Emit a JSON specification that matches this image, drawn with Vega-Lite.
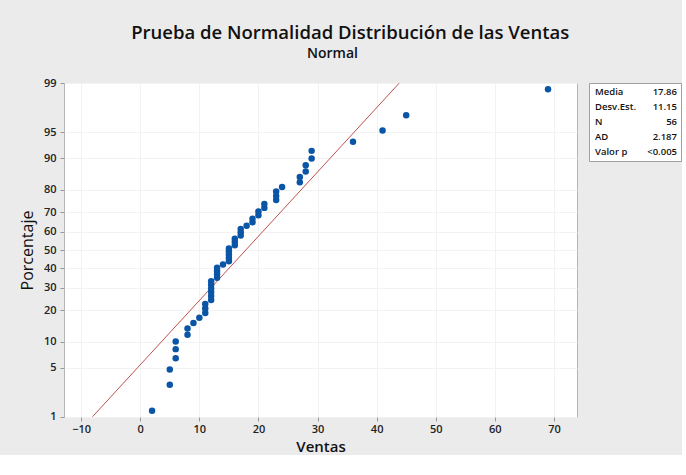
{
  "$schema": "https://vega.github.io/schema/vega-lite/v6.json",
  "background": "#ebebeb",
  "padding": {"left": 18, "top": 24, "right": 0, "bottom": 0},
  "title": {
    "text": "Prueba de Normalidad Distribución de las Ventas",
    "font": "Open Sans",
    "fontSize": 18.5,
    "fontWeight": 600,
    "color": "#111111",
    "anchor": "middle",
    "offset": 4
  },
  "datasets": {
    "ventas": [
      {"Ventas": 2, "Porcentaje": 1.241},
      {"Ventas": 5, "Porcentaje": 3.014},
      {"Ventas": 5, "Porcentaje": 4.787},
      {"Ventas": 6, "Porcentaje": 6.560},
      {"Ventas": 6, "Porcentaje": 8.333},
      {"Ventas": 6, "Porcentaje": 10.106},
      {"Ventas": 8, "Porcentaje": 11.879},
      {"Ventas": 8, "Porcentaje": 13.652},
      {"Ventas": 9, "Porcentaje": 15.426},
      {"Ventas": 10, "Porcentaje": 17.199},
      {"Ventas": 11, "Porcentaje": 18.972},
      {"Ventas": 11, "Porcentaje": 20.745},
      {"Ventas": 11, "Porcentaje": 22.518},
      {"Ventas": 12, "Porcentaje": 24.291},
      {"Ventas": 12, "Porcentaje": 26.064},
      {"Ventas": 12, "Porcentaje": 27.837},
      {"Ventas": 12, "Porcentaje": 29.610},
      {"Ventas": 12, "Porcentaje": 31.383},
      {"Ventas": 12, "Porcentaje": 33.156},
      {"Ventas": 13, "Porcentaje": 34.929},
      {"Ventas": 13, "Porcentaje": 36.702},
      {"Ventas": 13, "Porcentaje": 38.475},
      {"Ventas": 13, "Porcentaje": 40.248},
      {"Ventas": 14, "Porcentaje": 42.021},
      {"Ventas": 15, "Porcentaje": 43.794},
      {"Ventas": 15, "Porcentaje": 45.567},
      {"Ventas": 15, "Porcentaje": 47.340},
      {"Ventas": 15, "Porcentaje": 49.113},
      {"Ventas": 15, "Porcentaje": 50.887},
      {"Ventas": 16, "Porcentaje": 52.660},
      {"Ventas": 16, "Porcentaje": 54.433},
      {"Ventas": 16, "Porcentaje": 56.206},
      {"Ventas": 17, "Porcentaje": 57.979},
      {"Ventas": 17, "Porcentaje": 59.752},
      {"Ventas": 17, "Porcentaje": 61.525},
      {"Ventas": 18, "Porcentaje": 63.298},
      {"Ventas": 19, "Porcentaje": 65.071},
      {"Ventas": 19, "Porcentaje": 66.844},
      {"Ventas": 20, "Porcentaje": 68.617},
      {"Ventas": 20, "Porcentaje": 70.390},
      {"Ventas": 21, "Porcentaje": 72.163},
      {"Ventas": 21, "Porcentaje": 73.936},
      {"Ventas": 23, "Porcentaje": 75.709},
      {"Ventas": 23, "Porcentaje": 77.482},
      {"Ventas": 23, "Porcentaje": 79.255},
      {"Ventas": 24, "Porcentaje": 81.028},
      {"Ventas": 27, "Porcentaje": 82.801},
      {"Ventas": 27, "Porcentaje": 84.574},
      {"Ventas": 28, "Porcentaje": 86.348},
      {"Ventas": 28, "Porcentaje": 88.121},
      {"Ventas": 29, "Porcentaje": 89.894},
      {"Ventas": 29, "Porcentaje": 91.667},
      {"Ventas": 36, "Porcentaje": 93.440},
      {"Ventas": 41, "Porcentaje": 95.213},
      {"Ventas": 45, "Porcentaje": 96.986},
      {"Ventas": 69, "Porcentaje": 98.759}
    ],
    "ajuste": [
      {"Ventas": -8.08, "Porcentaje": 1},
      {"Ventas": 43.80, "Porcentaje": 99}
    ],
    "stats": [
      {"fila": 1, "etiqueta": "Media", "valor": "17.86"},
      {"fila": 2, "etiqueta": "Desv.Est.", "valor": "11.15"},
      {"fila": 3, "etiqueta": "N", "valor": "56"},
      {"fila": 4, "etiqueta": "AD", "valor": "2.187"},
      {"fila": 5, "etiqueta": "Valor p", "valor": "<0.005"}
    ]
  },
  "bounds": "flush",
  "spacing": 12,
  "hconcat": [
    {
      "width": 513,
      "height": 334,
      "title": {
        "text": "Normal",
        "font": "Open Sans",
        "fontSize": 14,
        "fontWeight": 600,
        "color": "#111111",
        "anchor": "middle",
        "dx": 12,
        "offset": 16
      },
      "view": {"fill": "white", "stroke": "#b5b5b5", "strokeWidth": 1},
      "encoding": {
        "x": {
          "field": "Ventas",
          "type": "quantitative",
          "scale": {"domain": [-12.9, 73.9], "nice": false, "zero": false},
          "axis": {
            "values": [-10, 0, 10, 20, 30, 40, 50, 60, 70],
            "title": "Ventas",
            "grid": true
          }
        },
        "y": {
          "field": "z",
          "type": "quantitative",
          "scale": {"domain": [-2.33, 2.33], "nice": false, "zero": false},
          "axis": {
            "values": [-2.3263, -1.6449, -1.2816, -0.8416, -0.5244, -0.2533, 0, 0.2533, 0.5244, 0.8416, 1.2816, 1.6449, 2.3263],
            "labelExpr": "format(round(cumulativeNormal(datum.value) * 100), 'd')",
            "labelOverlap": false,
            "title": "Porcentaje",
            "titleFontWeight": 500,
            "titleFontSize": 16,
            "grid": true
          }
        }
      },
      "layer": [
        {
          "data": {"name": "ajuste"},
          "transform": [{"calculate": "quantileNormal(datum.Porcentaje / 100)", "as": "z"}],
          "mark": {"type": "line", "color": "#c0504d", "strokeWidth": 1, "clip": true}
        },
        {
          "data": {"name": "ventas"},
          "transform": [{"calculate": "quantileNormal(datum.Porcentaje / 100)", "as": "z"}],
          "mark": {"type": "circle", "color": "#0b55a6", "size": 42, "opacity": 1}
        }
      ]
    },
    {
      "width": 92,
      "height": 78,
      "data": {"name": "stats"},
      "view": {"fill": "white", "stroke": "#a0a0a0", "strokeWidth": 1},
      "encoding": {
        "y": {
          "field": "fila",
          "type": "ordinal",
          "scale": {"type": "point", "padding": 0.6},
          "axis": null
        }
      },
      "layer": [
        {
          "mark": {"type": "text", "align": "left", "font": "Open Sans", "fontSize": 9.5, "fontWeight": 600, "color": "#111111"},
          "encoding": {
            "x": {"datum": 0, "type": "quantitative", "scale": {"domain": [0, 1], "range": [6, 88]}, "axis": null},
            "text": {"field": "etiqueta"}
          }
        },
        {
          "mark": {"type": "text", "align": "right", "font": "Open Sans", "fontSize": 9.5, "fontWeight": 600, "color": "#111111"},
          "encoding": {
            "x": {"datum": 1, "type": "quantitative", "scale": {"domain": [0, 1], "range": [6, 88]}, "axis": null},
            "text": {"field": "valor"}
          }
        }
      ]
    }
  ],
  "config": {
    "axis": {
      "labelFont": "Open Sans",
      "labelFontSize": 11,
      "labelFontWeight": 600,
      "labelColor": "#222222",
      "labelOverlap": false,
      "titleFont": "Open Sans",
      "titleFontSize": 15,
      "titleFontWeight": 600,
      "titleColor": "#111111",
      "tickColor": "#999999",
      "tickSize": 4,
      "domain": false,
      "gridColor": "#f2f2f2",
      "gridWidth": 1
    },
    "axisX": {"labelPadding": 2, "titlePadding": 5},
    "axisY": {"labelPadding": 4, "titlePadding": 8}
  }
}
